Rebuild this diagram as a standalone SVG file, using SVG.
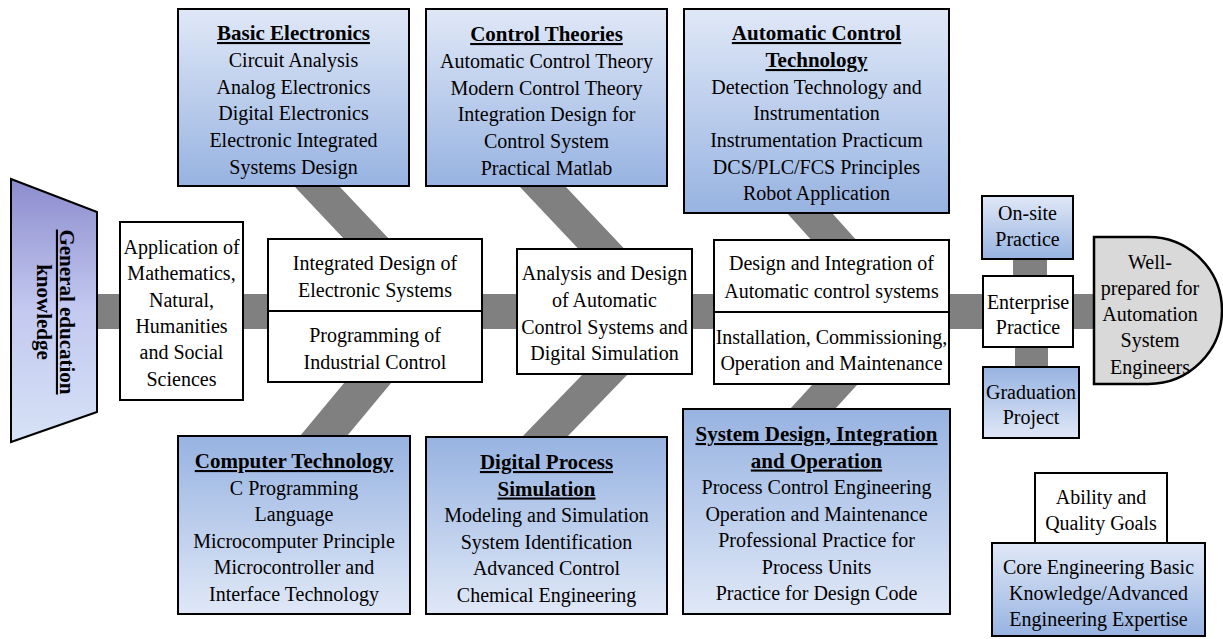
<svg xmlns="http://www.w3.org/2000/svg" width="1223" height="639" viewBox="0 0 1223 639">
<defs>
<linearGradient id="gDown" x1="0" y1="0" x2="0" y2="1"><stop offset="0" stop-color="#e0e8f7"/><stop offset="1" stop-color="#97b3e1"/></linearGradient>
<linearGradient id="gUp" x1="0" y1="0" x2="0" y2="1"><stop offset="0" stop-color="#97b3e1"/><stop offset="1" stop-color="#e0e8f7"/></linearGradient>
<linearGradient id="gTrap" x1="0" y1="0" x2="0" y2="1"><stop offset="0" stop-color="#8c8ccd"/><stop offset="0.5" stop-color="#c3c9f0"/><stop offset="1" stop-color="#d6e2f6"/></linearGradient>
<style>
.box{stroke:#000;stroke-width:2}
.w{fill:#fff}
.bone{fill:#808080}
.t{font-family:"Liberation Serif","Times New Roman",serif;font-size:20px;text-anchor:middle;fill:#000}
.h{font-weight:bold;font-size:21px;text-decoration:underline}
.b{font-weight:bold;font-size:21px}
</style>
</defs>
<rect width="1223" height="639" fill="#fff"/>

<g id="connectors">
<rect class="bone" x="97" y="294" width="997" height="35"/>
<polygon class="bone" points="295,187 340,187 457,311 412,311"/>
<polygon class="bone" points="520,187 566,187 683,311 637,311"/>
<polygon class="bone" points="787,213 832,213 920,311 875,311"/>
<polygon class="bone" points="404,311 451,311 347,436 300,436"/>
<polygon class="bone" points="644,311 689,311 567,437 522,437"/>
<polygon class="bone" points="880,311 925,311 835,409 790,409"/>
<rect class="bone" x="1013" y="258" width="34" height="20"/>
<rect class="bone" x="1015" y="345" width="33" height="24"/>
</g>

<g id="general">
<polygon class="box" fill="url(#gTrap)" points="11,179 97,212 97,412 11,442"/>
<g transform="translate(60,312) rotate(90)">
<text class="t h" x="0" y="0">General education</text>
<text class="t b" x="0" y="23">knowledge</text>
</g>
</g>

<g id="application">
<rect class="box w" x="120" y="222" width="123" height="178"/>
<text class="t" x="181.5" y="254">Application of</text>
<text class="t" x="181.5" y="280.3">Mathematics,</text>
<text class="t" x="181.5" y="306.6">Natural,</text>
<text class="t" x="181.5" y="332.9">Humanities</text>
<text class="t" x="181.5" y="359.2">and Social</text>
<text class="t" x="181.5" y="385.5">Sciences</text>
</g>

<g id="basic-electronics">
<rect class="box" fill="url(#gDown)" x="178" y="9" width="231" height="177"/>
<text class="t h" x="293.5" y="40">Basic Electronics</text>
<text class="t" x="293.5" y="67">Circuit Analysis</text>
<text class="t" x="293.5" y="94">Analog Electronics</text>
<text class="t" x="293.5" y="120">Digital Electronics</text>
<text class="t" x="293.5" y="147">Electronic Integrated</text>
<text class="t" x="293.5" y="174">Systems Design</text>
</g>

<g id="control-theories">
<rect class="box" fill="url(#gDown)" x="426" y="9" width="241" height="177"/>
<text class="t h" x="546.5" y="41">Control Theories</text>
<text class="t" x="546.5" y="68">Automatic Control Theory</text>
<text class="t" x="546.5" y="95">Modern Control Theory</text>
<text class="t" x="546.5" y="121">Integration Design for</text>
<text class="t" x="546.5" y="148">Control System</text>
<text class="t" x="546.5" y="175">Practical Matlab</text>
</g>

<g id="automatic-control-technology">
<rect class="box" fill="url(#gDown)" x="684" y="9" width="265" height="204"/>
<text class="t h" x="816.5" y="40">Automatic Control</text>
<text class="t h" x="816.5" y="67">Technology</text>
<text class="t" x="816.5" y="94">Detection Technology and</text>
<text class="t" x="816.5" y="120">Instrumentation</text>
<text class="t" x="816.5" y="147">Instrumentation Practicum</text>
<text class="t" x="816.5" y="174">DCS/PLC/FCS Principles</text>
<text class="t" x="816.5" y="200">Robot Application</text>
</g>

<g id="integrated-design">
<rect class="box w" x="268" y="239" width="214" height="72"/>
<text class="t" x="375" y="270">Integrated Design of</text>
<text class="t" x="375" y="297">Electronic Systems</text>
</g>
<g id="programming">
<rect class="box w" x="268" y="311" width="214" height="71"/>
<text class="t" x="375" y="342">Programming of</text>
<text class="t" x="375" y="369">Industrial Control</text>
</g>

<g id="analysis-design">
<rect class="box w" x="517" y="249" width="175" height="125"/>
<text class="t" x="604.5" y="280">Analysis and Design</text>
<text class="t" x="604.5" y="307">of Automatic</text>
<text class="t" x="604.5" y="334">Control Systems and</text>
<text class="t" x="604.5" y="360">Digital Simulation</text>
</g>

<g id="design-integration">
<rect class="box w" x="714" y="240" width="235" height="72"/>
<text class="t" x="831.5" y="270">Design and Integration of</text>
<text class="t" x="831.5" y="298">Automatic control systems</text>
</g>
<g id="installation">
<rect class="box w" x="714" y="312" width="235" height="72"/>
<text class="t" x="831.5" y="344">Installation, Commissioning,</text>
<text class="t" x="831.5" y="370">Operation and Maintenance</text>
</g>

<g id="computer-technology">
<rect class="box" fill="url(#gUp)" x="178" y="436" width="232" height="178"/>
<text class="t h" x="294" y="468">Computer Technology</text>
<text class="t" x="294" y="494.5">C Programming</text>
<text class="t" x="294" y="521">Language</text>
<text class="t" x="294" y="547.5">Microcomputer Principle</text>
<text class="t" x="294" y="574">Microcontroller and</text>
<text class="t" x="294" y="600.5">Interface Technology</text>
</g>

<g id="digital-process-simulation">
<rect class="box" fill="url(#gUp)" x="426" y="437" width="241" height="177"/>
<text class="t h" x="546.5" y="469">Digital Process</text>
<text class="t h" x="546.5" y="495.5">Simulation</text>
<text class="t" x="546.5" y="522">Modeling and Simulation</text>
<text class="t" x="546.5" y="548.5">System Identification</text>
<text class="t" x="546.5" y="575">Advanced Control</text>
<text class="t" x="546.5" y="601.5">Chemical Engineering</text>
</g>

<g id="system-design">
<rect class="box" fill="url(#gUp)" x="683" y="409" width="267" height="205"/>
<text class="t h" x="816.5" y="441">System Design, Integration</text>
<text class="t h" x="816.5" y="467.5">and Operation</text>
<text class="t" x="816.5" y="494">Process Control Engineering</text>
<text class="t" x="816.5" y="520.5">Operation and Maintenance</text>
<text class="t" x="816.5" y="547">Professional Practice for</text>
<text class="t" x="816.5" y="573.5">Process Units</text>
<text class="t" x="816.5" y="600">Practice for Design Code</text>
</g>

<g id="on-site">
<rect class="box" fill="url(#gDown)" x="982" y="196" width="91" height="63"/>
<text class="t" x="1027.5" y="220">On-site</text>
<text class="t" x="1027.5" y="246">Practice</text>
</g>

<g id="enterprise">
<rect class="box w" x="983" y="276" width="90" height="71"/>
<text class="t" x="1028" y="309">Enterprise</text>
<text class="t" x="1028" y="334">Practice</text>
</g>

<g id="graduation">
<rect class="box" fill="url(#gUp)" x="983" y="367" width="96" height="71"/>
<text class="t" x="1031" y="399">Graduation</text>
<text class="t" x="1031" y="424">Project</text>
</g>

<g id="engineers">
<path fill="#d9d9d9" stroke="#000" stroke-width="2.5" d="M1094,237 H1148.5 A73.5,73.5 0 0 1 1148.5,384 H1094 Z"/>
<text class="t" x="1150" y="269">Well-</text>
<text class="t" x="1150" y="295">prepared for</text>
<text class="t" x="1150" y="321">Automation</text>
<text class="t" x="1150" y="347">System</text>
<text class="t" x="1150" y="374">Engineers</text>
</g>

<g id="ability">
<rect class="box w" x="1035" y="473" width="132" height="70"/>
<text class="t" x="1101" y="504">Ability and</text>
<text class="t" x="1101" y="530">Quality Goals</text>
</g>

<g id="core">
<rect class="box" fill="url(#gDown)" x="992" y="543" width="213" height="93"/>
<text class="t" x="1098.5" y="574">Core Engineering Basic</text>
<text class="t" x="1098.5" y="600">Knowledge/Advanced</text>
<text class="t" x="1098.5" y="626">Engineering Expertise</text>
</g>
</svg>
